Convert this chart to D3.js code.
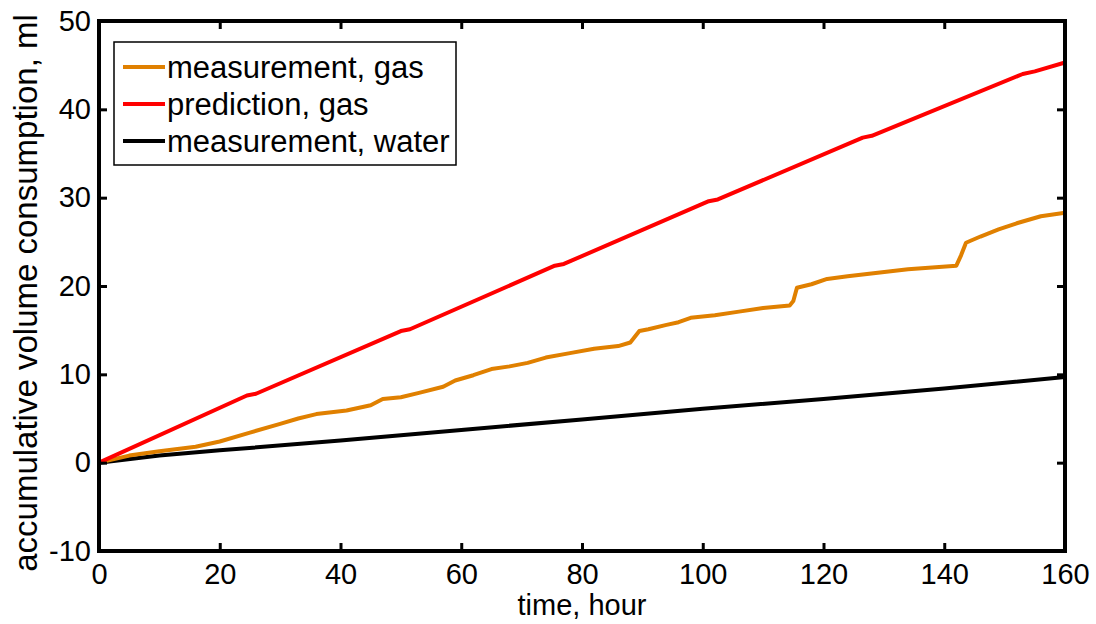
<!DOCTYPE html>
<html>
<head>
<meta charset="utf-8">
<script src="https://cdn.jsdelivr.net/npm/d3@7"></script>
<style>
body { margin: 0; background: #fff; }
svg text { font-family: "Liberation Sans", Arial, sans-serif; fill: #000; }
</style>
</head>
<body>
<svg id="chart" width="1096" height="624"></svg>
<script>
// series data
var gasMeasT = [0,5,10,16,20,25,30,33,36,41,45,47,50,53,57,59,62,65,68,71,74,78,82,86,88,89.5,91,94,96,98,102,106,110,114.4,115,115.6,118,120.6,124,129,134,138,142,142.8,143.6,146,149,152,156,160];
var gasMeasV = [0,0.8,1.3,1.8,2.4,3.4,4.4,5.0,5.5,5.9,6.5,7.2,7.4,7.9,8.6,9.3,9.9,10.6,10.9,11.3,11.9,12.4,12.9,13.2,13.6,14.9,15.1,15.6,15.9,16.4,16.7,17.1,17.5,17.8,18.3,19.8,20.2,20.8,21.1,21.5,21.9,22.1,22.3,23.5,24.9,25.6,26.4,27.1,27.9,28.3];

var gasPredT = [0,24.5,26,50,51.5,75.5,77,101,102.5,126.5,128,153,155,160];
var gasPredV = [0,7.6,7.8,14.9,15.1,22.3,22.5,29.6,29.8,36.8,37.0,44.0,44.3,45.3];

var waterT = [0,10,20,40,60,80,100,120,140,160];
var waterV = [0,0.8,1.4,2.5,3.7,4.9,6.1,7.2,8.4,9.7];

var xTicks = [0,20,40,60,80,100,120,140,160];
var yTicks = [-10,0,10,20,30,40,50];

var seriesNames = ["measurement, gas", "prediction, gas", "measurement, water"];
var seriesColors = ["#E08000", "#FF0000", "#000000"];

var margin = {top: 21, right: 31, bottom: 73, left: 99};
var W = 1096, H = 624;
var w = W - margin.left - margin.right;
var h = H - margin.top - margin.bottom;

var svg = d3.select("#chart");
var g = svg.append("g").attr("transform", "translate(" + margin.left + "," + margin.top + ")");

var x = d3.scaleLinear().domain([0, 160]).range([0, w]);
var y = d3.scaleLinear().domain([-10, 50]).range([h, 0]);

function zipSeries(t, v) {
    return t.map(function (d, i) { return [d, v[i]]; });
}
var series = [zipSeries(gasMeasT, gasMeasV), zipSeries(gasPredT, gasPredV), zipSeries(waterT, waterV)];

var line = d3.line()
    .x(function (d) { return x(d[0]); })
    .y(function (d) { return y(d[1]); });

// water first, then gas measurement, prediction on top
[2, 0, 1].forEach(function (i) {
    g.append("path")
        .attr("d", line(series[i]))
        .attr("fill", "none")
        .attr("stroke", seriesColors[i])
        .attr("stroke-width", 4)
        .attr("stroke-linejoin", "round");
});

// axes, ticks inward on all four sides
var tickLen = 8;
var plain = function (d) { return String(d); };   // plain hyphen for -10
var xB = d3.axisBottom(x).tickValues(xTicks).tickSize(-tickLen).tickPadding(12).tickSizeOuter(0).tickFormat(plain);
var xT = d3.axisTop(x).tickValues(xTicks).tickSize(-tickLen).tickFormat("").tickSizeOuter(0);
var yL = d3.axisLeft(y).tickValues(yTicks).tickSize(-tickLen).tickPadding(8).tickSizeOuter(0).tickFormat(plain);
var yR = d3.axisRight(y).tickValues(yTicks).tickSize(-tickLen).tickFormat("").tickSizeOuter(0);

g.append("g").attr("transform", "translate(0," + h + ")").call(xB);
g.append("g").call(xT);
g.append("g").call(yL);
g.append("g").attr("transform", "translate(" + w + ",0)").call(yR);

g.selectAll(".domain").remove();
g.selectAll(".tick line").attr("stroke", "#000").attr("stroke-width", 3);
g.selectAll(".tick text").style("font-size", "29px").attr("fill", "#000");

g.append("rect")
    .attr("x", 0).attr("y", 0).attr("width", w).attr("height", h)
    .attr("fill", "none").attr("stroke", "#000").attr("stroke-width", 4);

// axis labels
svg.append("text")
    .attr("x", margin.left + w / 2).attr("y", 615)
    .attr("text-anchor", "middle").style("font-size", "29px")
    .text("time, hour");

svg.append("text")
    .attr("transform", "translate(37,293) rotate(-90)")
    .attr("text-anchor", "middle").style("font-size", "33px")
    .text("accumulative volume consumption, ml");

// legend
var leg = svg.append("g").attr("transform", "translate(114,42)");
leg.append("rect")
    .attr("width", 342).attr("height", 123)
    .attr("fill", "#fff").attr("stroke", "#000").attr("stroke-width", 1.5);
seriesNames.forEach(function (name, i) {
    var yy = 25 + i * 37;
    leg.append("line")
        .attr("x1", 9).attr("x2", 51).attr("y1", yy).attr("y2", yy)
        .attr("stroke", seriesColors[i]).attr("stroke-width", 4);
    leg.append("text")
        .attr("x", 53).attr("y", yy + 11)
        .style("font-size", "31px")
        .text(name);
});
</script>
</body>
</html>
